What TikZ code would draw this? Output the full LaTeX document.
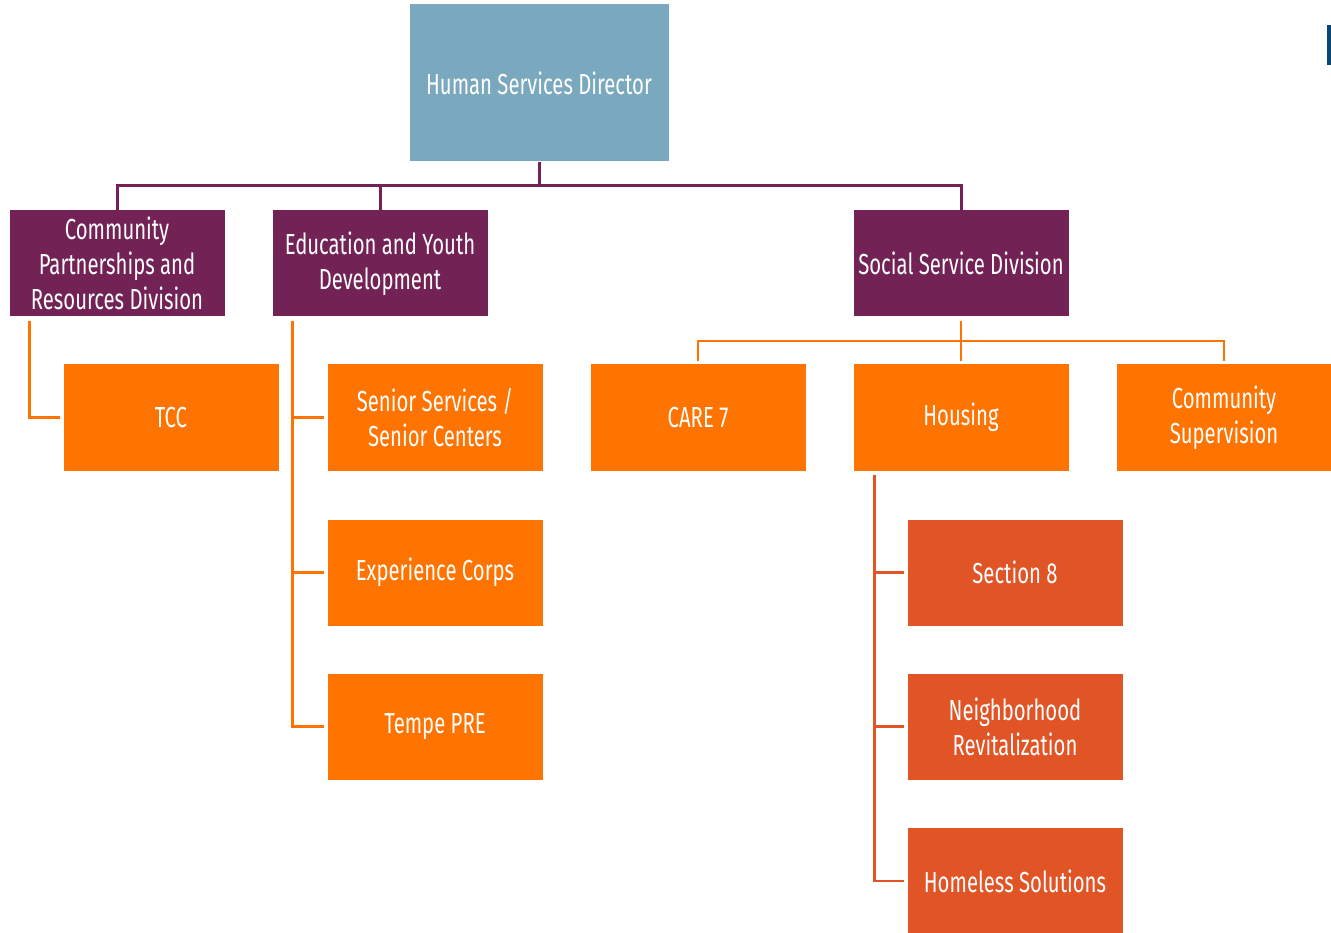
\documentclass[tikz,border=0pt]{standalone}
\usepackage{fontspec}
\setmainfont{Fira Sans}[FakeStretch=0.70]
\definecolor{dirblue}{HTML}{7AA8BE}
\definecolor{divpurple}{HTML}{722255}
\definecolor{unitorange}{HTML}{FF7300}
\definecolor{subred}{HTML}{E05426}
\definecolor{marknavy}{HTML}{0B4573}
\begin{document}
\begin{tikzpicture}[x=1pt,y=-1pt,
  box/.style={draw=none,text=white,align=center,inner sep=0pt,
    minimum width=215pt,minimum height=106pt,
    font=\fontsize{29}{35}\selectfont},
  dirbox/.style={box,fill=dirblue,minimum width=259pt,minimum height=157pt},
  divbox/.style={box,fill=divpurple},
  unitbox/.style={box,fill=unitorange},
  subbox/.style={box,fill=subred},
  pline/.style={draw=divpurple,line width=3pt},
  oline/.style={draw=unitorange,line width=2.6pt},
  rline/.style={draw=subred,line width=2.6pt}]
\useasboundingbox (0,0) rectangle (1331,933);
\fill[marknavy] (1327,25) rectangle (1331,65);
\node[dirbox] (hsd) at (539,83) {Human Services Director};
\node[divbox] (cpr) at (117,263.5) {Community\\Partnerships and\\Resources Division};
\node[divbox] (eyd) at (380,263.5) {Education and Youth\\Development};
\node[divbox] (ssd) at (961,263.5) {Social Service Division};
\node[unitbox] (tcc) at (171,417.5) {TCC};
\node[unitbox] (ss) at (435,417.5) {Senior Services /\\Senior Centers};
\node[unitbox] (ec) at (435,572.5) {Experience Corps};
\node[unitbox] (tpre) at (435,726.5) {Tempe PRE};
\node[unitbox] (care) at (698,417.5) {CARE 7};
\node[unitbox] (hous) at (961,417.5) {Housing};
\node[unitbox] (cs) at (1224,417.5) {Community\\Supervision};
\node[subbox] (s8) at (1015,572.5) {Section 8};
\node[subbox] (nr) at (1015,726.5) {Neighborhood\\Revitalization};
\node[subbox] (hs) at (1015,881) {Homeless Solutions};
% purple bus
\coordinate (pbus) at (539,186);
\draw[pline] (hsd.south) -- (pbus);
\draw[pline] (cpr.north) -- (cpr.north |- pbus) -| (ssd.north);
\draw[pline] (eyd.north) -- (eyd.north |- pbus);
% community partnerships
\coordinate (cprt) at ([xshift=20pt,yshift=-4pt]cpr.south west);
\draw[oline] (cprt) |- ([xshift=-3pt]tcc.west);
% education
\coordinate (eydt) at ([xshift=20pt,yshift=-4pt]eyd.south west);
\draw[oline] (eydt) |- ([xshift=-3pt]tpre.west);
\draw[oline] ([xshift=-3pt]ss.west) -- (ss.west -| eydt);
\draw[oline] ([xshift=-3pt]ec.west) -- (ec.west -| eydt);
% social service
\coordinate (obus) at (961,341);
\draw[oline] ([yshift=-4pt]ssd.south) -- ([yshift=3pt]hous.north);
\draw[oline] ([yshift=3pt]care.north) -- (care.north |- obus) -| ([yshift=3pt]cs.north);
% housing
\coordinate (houst) at ([xshift=21pt,yshift=-4pt]hous.south west);
\draw[rline] (houst) |- ([xshift=-3pt]hs.west);
\draw[rline] ([xshift=-3pt]s8.west) -- (s8.west -| houst);
\draw[rline] ([xshift=-3pt]nr.west) -- (nr.west -| houst);
\end{tikzpicture}
\end{document}
